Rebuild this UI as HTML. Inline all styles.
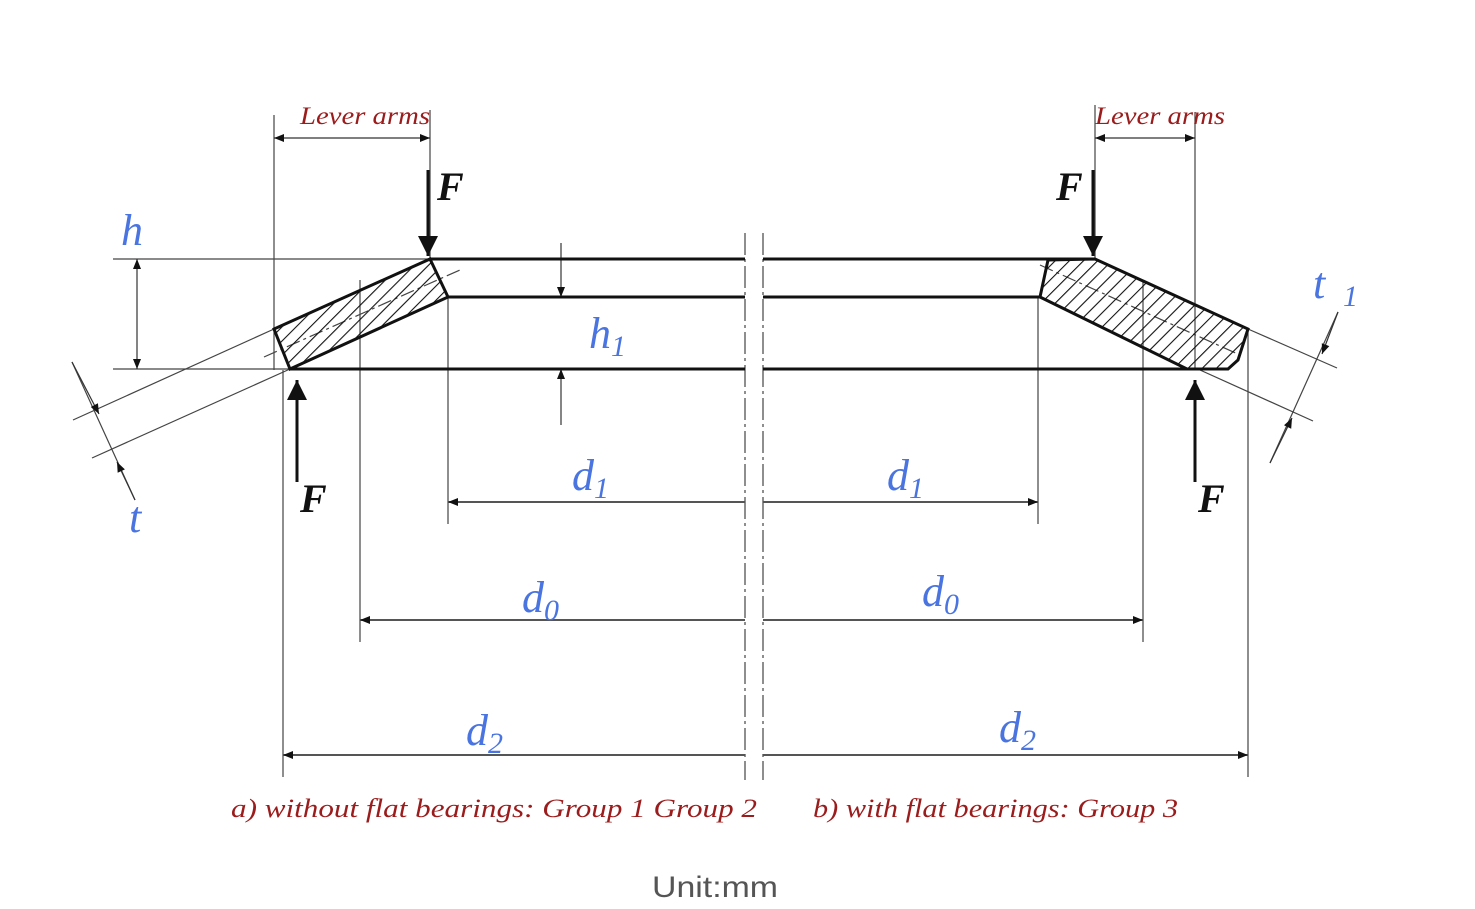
<!DOCTYPE html>
<html><head><meta charset="utf-8"><style>
html,body{margin:0;padding:0;background:#fff;}
svg{display:block;}
.b{font-family:"Liberation Serif",serif;font-style:italic;fill:#4a74e0;}
.r{font-family:"Liberation Serif",serif;font-style:italic;fill:#9b1c1c;}
.k{font-family:"Liberation Serif",serif;font-style:italic;font-weight:bold;fill:#111;}
</style></head><body>
<svg width="1475" height="909" viewBox="0 0 1475 909" xmlns="http://www.w3.org/2000/svg">
<defs>
<pattern id="h" width="10" height="10" patternUnits="userSpaceOnUse" patternTransform="rotate(45)">
<line x1="0" y1="0" x2="0" y2="10" stroke="#111" stroke-width="2.2"/></pattern>
<marker id="a" viewBox="0 0 10 10" refX="10" refY="5" markerWidth="24" markerHeight="10" markerUnits="userSpaceOnUse" orient="auto-start-reverse"><path d="M0,1 L10,5 L0,9 Z" fill="#111"/></marker>
<marker id="A" viewBox="0 0 10 10" refX="10" refY="5" markerWidth="24" markerHeight="20" markerUnits="userSpaceOnUse" orient="auto"><path d="M0,0 L10,5 L0,10 Z" fill="#111"/></marker>
</defs>
<g stroke="#444" stroke-width="1.2" fill="none">
<line x1="274" y1="115" x2="274" y2="370"/>
<line x1="430" y1="110" x2="430" y2="259"/>
<line x1="283" y1="370" x2="283" y2="777"/>
<line x1="360" y1="280" x2="360" y2="642"/>
<line x1="448" y1="297" x2="448" y2="524"/>
<line x1="1095" y1="105" x2="1095" y2="259"/>
<line x1="1195" y1="112" x2="1195" y2="370"/>
<line x1="1038" y1="297" x2="1038" y2="524"/>
<line x1="1143" y1="280" x2="1143" y2="642"/>
<line x1="1248" y1="329" x2="1248" y2="777"/>
<line x1="113" y1="259" x2="430" y2="259"/>
<line x1="113" y1="369" x2="290" y2="369"/>
<line x1="274" y1="329" x2="73" y2="420"/>
<line x1="290" y1="369" x2="92" y2="458"/>
<line x1="1248" y1="329" x2="1337" y2="368"/>
<line x1="1200" y1="370" x2="1313" y2="421"/>
<line x1="72" y1="362" x2="135" y2="500"/>
<line x1="1338" y1="312" x2="1270" y2="463"/>
<line x1="264" y1="357" x2="460" y2="270" stroke-dasharray="14,4,3,4"/>
<line x1="1040" y1="265" x2="1240" y2="355" stroke-dasharray="14,4,3,4"/>
<line x1="745" y1="233" x2="745" y2="780" stroke-dasharray="22,4,3,4"/>
<line x1="763" y1="233" x2="763" y2="780" stroke-dasharray="22,4,3,4"/>
</g>
<g stroke="#555" stroke-width="2" fill="none">
<line x1="745" y1="502" x2="448" y2="502" marker-end="url(#a)"/>
<line x1="763" y1="502" x2="1038" y2="502" marker-end="url(#a)"/>
<line x1="745" y1="620" x2="360" y2="620" marker-end="url(#a)"/>
<line x1="763" y1="620" x2="1143" y2="620" marker-end="url(#a)"/>
<line x1="745" y1="755" x2="283" y2="755" marker-end="url(#a)"/>
<line x1="763" y1="755" x2="1248" y2="755" marker-end="url(#a)"/>
</g>
<g stroke="#333" stroke-width="1.2" fill="none">
<line x1="274" y1="138" x2="430" y2="138" marker-start="url(#a)" marker-end="url(#a)"/>
<line x1="1095" y1="138" x2="1195" y2="138" marker-start="url(#a)" marker-end="url(#a)"/>
<line x1="137" y1="259" x2="137" y2="369" marker-start="url(#a)" marker-end="url(#a)"/>
<line x1="561" y1="243" x2="561" y2="297" marker-end="url(#a)"/>
<line x1="561" y1="425" x2="561" y2="369" marker-end="url(#a)"/>
<line x1="72" y1="362" x2="99" y2="414" marker-end="url(#a)"/>
<line x1="135" y1="500" x2="117" y2="462" marker-end="url(#a)"/>
<line x1="1338" y1="312" x2="1322" y2="354" marker-end="url(#a)"/>
<line x1="1270" y1="463" x2="1292" y2="418" marker-end="url(#a)"/>
</g>
<g stroke="#111" stroke-width="3" fill="none">
<line x1="430" y1="259" x2="745" y2="259"/>
<line x1="448" y1="297" x2="745" y2="297"/>
<line x1="290" y1="369" x2="745" y2="369"/>
<line x1="763" y1="259" x2="1095" y2="259"/>
<line x1="763" y1="297" x2="1040" y2="297"/>
<line x1="763" y1="369" x2="1228" y2="369"/>
<polygon points="430,259 448,297 290,369 274,329" fill="url(#h)"/>
<polygon points="1048,260 1095,259 1248,329 1238,360 1228,369 1187,369 1040,297" fill="url(#h)"/>
</g>
<g stroke="#111" stroke-width="3">
<line x1="428" y1="170" x2="428" y2="256" marker-end="url(#A)"/>
<line x1="1093" y1="170" x2="1093" y2="256" marker-end="url(#A)"/>
<line x1="297" y1="482" x2="297" y2="380" marker-end="url(#A)"/>
<line x1="1195" y1="482" x2="1195" y2="380" marker-end="url(#A)"/>
</g>
<text class="k" x="437" y="200" font-size="40">F</text>
<text class="k" x="1056" y="200" font-size="40">F</text>
<text class="k" x="300" y="512" font-size="40">F</text>
<text class="k" x="1198" y="512" font-size="40">F</text>
<text class="r" x="300" y="124" font-size="25" textLength="130" lengthAdjust="spacingAndGlyphs">Lever arms</text>
<text class="r" x="1095" y="124" font-size="25" textLength="130" lengthAdjust="spacingAndGlyphs">Lever arms</text>
<text class="b" x="121" y="245" font-size="44">h</text>
<text class="b" x="589" y="348" font-size="44">h<tspan font-size="30" dy="8">1</tspan></text>
<text class="b" x="572" y="490" font-size="44">d<tspan font-size="30" dy="8">1</tspan></text>
<text class="b" x="887" y="490" font-size="44">d<tspan font-size="30" dy="8">1</tspan></text>
<text class="b" x="522" y="612" font-size="44">d<tspan font-size="30" dy="8">0</tspan></text>
<text class="b" x="922" y="606" font-size="44">d<tspan font-size="30" dy="8">0</tspan></text>
<text class="b" x="466" y="745" font-size="44">d<tspan font-size="30" dy="8">2</tspan></text>
<text class="b" x="999" y="742" font-size="44">d<tspan font-size="30" dy="8">2</tspan></text>
<text class="b" x="129" y="532" font-size="44">t</text>
<text class="b" x="1313" y="298" font-size="44">t</text>
<text class="b" x="1343" y="306" font-size="30">1</text>
<text class="r" x="231" y="817" font-size="26" textLength="526" lengthAdjust="spacingAndGlyphs">a) without flat bearings:  Group 1  Group 2</text>
<text class="r" x="813" y="817" font-size="26" textLength="365" lengthAdjust="spacingAndGlyphs">b) with flat bearings: Group 3</text>
<text x="715" y="897" font-size="30" text-anchor="middle" fill="#555" font-family="Liberation Sans, sans-serif" textLength="126" lengthAdjust="spacingAndGlyphs">Unit:mm</text>
</svg>
</body></html>
